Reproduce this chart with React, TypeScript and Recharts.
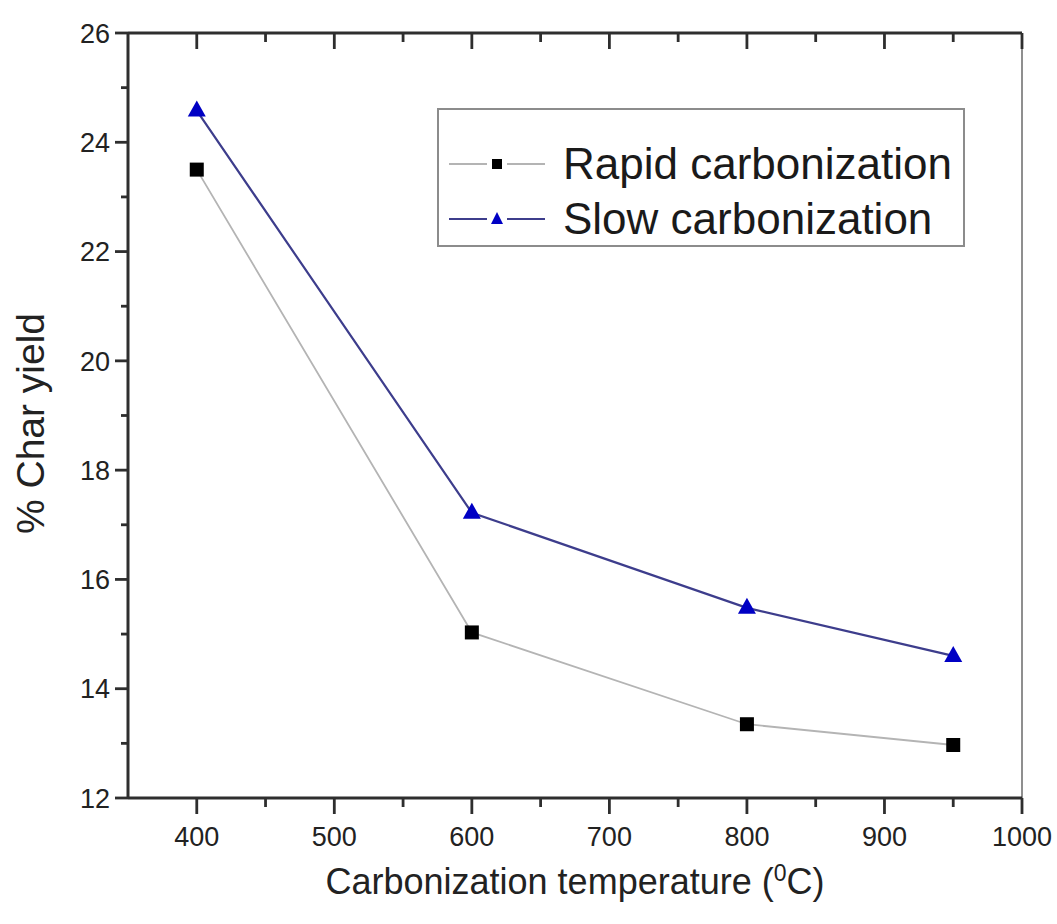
import React from "react";
import {
  LineChart,
  Line,
  XAxis,
  YAxis,
  Legend,
  ReferenceLine,
} from "recharts";

// carbonization temperature (°C) and char yield (%)
const temps = [400, 600, 800, 950];
const rapidYield = [23.5, 15.03, 13.35, 12.97];
const slowYield = [24.58, 17.22, 15.48, 14.6];

const xTicks = [400, 450, 500, 550, 600, 650, 700, 750, 800, 850, 900, 950, 1000];
const xLabels = [400, 500, 600, 700, 800, 900, 1000];
const yTicks = [12, 13, 14, 15, 16, 17, 18, 19, 20, 21, 22, 23, 24, 25, 26];
const yLabels = [12, 14, 16, 18, 20, 22, 24, 26];

const data = temps.map((t, i) => ({
  temp: t,
  rapid: rapidYield[i],
  slow: slowYield[i],
}));

const FONT = "'Liberation Sans', Arial, sans-serif";
const AXIS = "#2e2e2e";
const RAPID_LINE = "#b4b4b4";
const SLOW_LINE = "#3d3d8c";
const TRIANGLE = "#0000c4";

const BottomTick = (props: any) => {
  const { x, y, payload } = props;
  const major = xLabels.includes(payload.value);
  return (
    <g>
      <line x1={x} x2={x} y1={y} y2={y + (major ? 16 : 9)} stroke={AXIS} strokeWidth={2.8} />
      {major && (
        <text x={x} y={y + 48} textAnchor="middle" fontSize={27} fill="#222" fontFamily={FONT}>
          {payload.value}
        </text>
      )}
    </g>
  );
};

// top frame ticks point into the plot
const TopTick = (props: any) => {
  const { x, payload } = props;
  const major = xLabels.includes(payload.value);
  return <line x1={x} x2={x} y1={33} y2={33 + (major ? 16 : 9)} stroke={AXIS} strokeWidth={2.8} />;
};

const LeftTick = (props: any) => {
  const { x, y, payload } = props;
  const major = yLabels.includes(payload.value);
  return (
    <g>
      <line x1={x} x2={x - (major ? 13 : 7)} y1={y} y2={y} stroke={AXIS} strokeWidth={2.8} />
      {major && (
        <text x={x - 18} y={y} dy="0.36em" textAnchor="end" fontSize={27} fill="#222" fontFamily={FONT}>
          {payload.value}
        </text>
      )}
    </g>
  );
};

const Square = (props: any) => {
  const { cx, cy } = props;
  if (cx == null || cy == null) return null;
  return <rect x={cx - 7} y={cy - 7} width={14} height={14} fill="#000" />;
};

const Triangle = (props: any) => {
  const { cx, cy } = props;
  if (cx == null || cy == null) return null;
  return (
    <polygon
      points={`${cx},${cy - 10} ${cx - 9},${cy + 6} ${cx + 9},${cy + 6}`}
      fill={TRIANGLE}
    />
  );
};

const legendRows = [
  { name: "Rapid carbonization", line: RAPID_LINE, marker: "square" },
  { name: "Slow carbonization", line: SLOW_LINE, marker: "triangle" },
];

const LegendBox = () => (
  <div
    style={{
      width: 528,
      height: 139,
      boxSizing: "border-box",
      border: "2px solid #8c8c8c",
      background: "#fff",
      paddingTop: 26,
      fontFamily: FONT,
    }}
  >
    {legendRows.map((r) => (
      <div key={r.name} style={{ display: "flex", alignItems: "center", height: 55 }}>
        <svg width={124} height={40}>
          <line x1={10} x2={48} y1={20} y2={20} stroke={r.line} strokeWidth={2} />
          <line x1={68} x2={106} y1={20} y2={20} stroke={r.line} strokeWidth={2} />
          {r.marker === "square" ? (
            <rect x={53} y={15} width={10} height={10} fill="#000" />
          ) : (
            <polygon points="58,13 52,25 64,25" fill={TRIANGLE} />
          )}
        </svg>
        <span style={{ fontSize: 44, color: "#1a1a1a", lineHeight: "55px" }}>{r.name}</span>
      </div>
    ))}
  </div>
);

const XTitle = (props: any) => {
  const { viewBox } = props;
  const cx = viewBox.x + viewBox.width / 2;
  return (
    <text x={cx} y={viewBox.y + 96} textAnchor="middle" fontSize={36} fill="#222" fontFamily={FONT}>
      Carbonization temperature (
      <tspan dy={-13} fontSize={23}>0</tspan>
      <tspan dy={13}>C)</tspan>
    </text>
  );
};

const YTitle = (props: any) => {
  const { viewBox } = props;
  const cy = viewBox.y + viewBox.height / 2 + 8;
  return (
    <text
      x={30}
      y={cy}
      transform={`rotate(-90, 30, ${cy})`}
      dy="0.36em"
      textAnchor="middle"
      fontSize={39}
      fill="#222"
      fontFamily={FONT}
    >
      % Char yield
    </text>
  );
};

export default function App() {
  return (
    <div style={{ position: "absolute", left: 0, top: 0, background: "#fff" }}>
      <LineChart
        width={1057}
        height={924}
        data={data}
        margin={{ top: 32, right: 35, bottom: 66, left: 68 }}
      >
        <XAxis
          dataKey="temp"
          type="number"
          domain={[350, 1000]}
          ticks={xTicks}
          interval={0}
          tickSize={0}
          tickMargin={0}
          tickLine={false}
          tick={<BottomTick />}
          height={60}
          axisLine={{ stroke: AXIS, strokeWidth: 3 }}
          label={<XTitle />}
        />
        <XAxis
          xAxisId="top"
          orientation="top"
          dataKey="temp"
          type="number"
          domain={[350, 1000]}
          ticks={xTicks}
          interval={0}
          tickSize={0}
          tickMargin={0}
          tickLine={false}
          tick={<TopTick />}
          height={1}
          axisLine={{ stroke: AXIS, strokeWidth: 2.8 }}
        />
        <YAxis
          type="number"
          domain={[12, 26]}
          ticks={yTicks}
          interval={0}
          tickSize={0}
          tickMargin={0}
          tickLine={false}
          tick={<LeftTick />}
          width={60}
          axisLine={{ stroke: AXIS, strokeWidth: 3 }}
          label={<YTitle />}
        />
        <ReferenceLine x={1000} stroke="#6a6a6a" strokeWidth={1.5} />
        <Line
          dataKey="rapid"
          stroke={RAPID_LINE}
          strokeWidth={1.8}
          dot={<Square />}
          activeDot={false}
          isAnimationActive={false}
        />
        <Line
          dataKey="slow"
          stroke={SLOW_LINE}
          strokeWidth={2.2}
          dot={<Triangle />}
          activeDot={false}
          isAnimationActive={false}
        />
        <Legend
          layout="vertical"
          align="center"
          verticalAlign="middle"
          content={<LegendBox />}
          wrapperStyle={{ position: "absolute", left: 437, top: 108, width: 528 }}
        />
      </LineChart>
    </div>
  );
}
